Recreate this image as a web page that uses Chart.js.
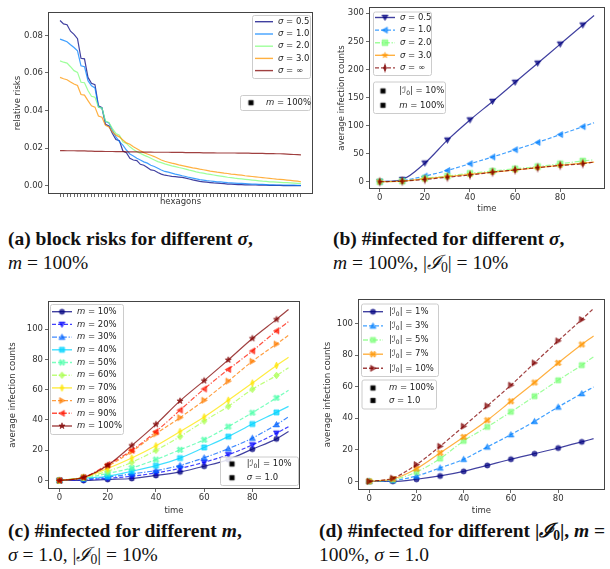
<!DOCTYPE html>
<html>
<head>
<meta charset="utf-8">
<script src="https://cdn.jsdelivr.net/npm/chart.js@4/dist/chart.umd.min.js"></script>
<style>
  body { margin: 0; background: #fff; width: 610px; height: 569px; position: relative; overflow: hidden; }
  canvas { position: absolute; }
  .cap { position: absolute; font-family: "Liberation Serif", "DejaVu Serif", serif; font-size: 19.5px; line-height: 23.5px; color: #111; white-space: nowrap; }
  .cap sub { font-size: 0.7em; vertical-align: -0.25em; line-height: 0; }
</style>
</head>
<body>
<canvas id="ca" width="318" height="208" style="left:0;top:0"></canvas>
<canvas id="cb" width="290" height="215" style="left:320px;top:0"></canvas>
<canvas id="cc" width="310" height="227" style="left:0;top:290px"></canvas>
<canvas id="cd" width="300" height="227" style="left:310px;top:290px"></canvas>

<div class="cap" style="left:8px;top:227px"><b>(a) block risks for different <i>σ</i>,</b><br><i>m</i> = 100%</div>
<div class="cap" style="left:333px;top:227px"><b>(b) #infected for different <i>σ</i>,</b><br><i>m</i> = 100%, |<i>ℐ</i><sub>0</sub>| = 10%</div>
<div class="cap" style="left:8px;top:519px"><b>(c) #infected for different <i>m</i>,</b><br><i>σ</i> = 1.0, |<i>ℐ</i><sub>0</sub>| = 10%</div>
<div class="cap" style="left:319px;top:519px"><b>(d) #infected for different |<i>ℐ</i><sub>0</sub>|, <i>m</i> =</b><br>100%, <i>σ</i> = 1.0</div>

<script>
// ---- data ----
// (a) relative risk per hexagon, sorted
const hexagons = [0,1,2,3,4,5,6,7,8,9,10,11,12,13,14,15,16,17,18,19,20,21,22,23,24,25,26,27,28,29,30,31,32,33,34,
  35,36,37,38,39,40,41,42,43,44,45,46,47,48,49,50,51,52,53,54,55,56,57,58,59,60,61,62,63,64,65,66,67,68,69];
const riskSigma05 = [0.0879,0.0861,0.0856,0.0822,0.0805,0.0782,0.0678,0.0675,0.0576,0.0545,
  0.0538,0.0425,0.0415,0.0327,0.0318,0.0278,0.0246,0.0239,0.0185,0.0176,
  0.0146,0.0137,0.0134,0.0114,0.0109,0.0097,0.0084,0.0081,0.0070,0.0062,
  0.0056,0.0053,0.0050,0.0048,0.0046,0.0044,0.0040,0.0036,0.0031,0.0027,
  0.0023,0.0021,0.0019,0.0017,0.0015,0.0014,0.0012,0.0011,0.0009,0.0008,
  0.0007,0.0006,0.0006,0.0005,0.0005,0.0004,0.0004,0.0003,0.0003,0.0003,
  0.0002,0.0002,0.0002,0.0002,0.0001,0.0001,0.0001,0.0001,0.0001,0.0001];
const riskSigma10 = [0.0780,0.0773,0.0766,0.0750,0.0735,0.0717,0.0638,0.0633,0.0559,0.0532,
  0.0520,0.0418,0.0413,0.0341,0.0334,0.0295,0.0260,0.0234,0.0216,0.0190,
  0.0169,0.0158,0.0146,0.0137,0.0127,0.0120,0.0109,0.0102,0.0093,0.0084,
  0.0076,0.0072,0.0067,0.0062,0.0058,0.0053,0.0049,0.0044,0.0040,0.0036,
  0.0032,0.0030,0.0027,0.0025,0.0023,0.0021,0.0020,0.0018,0.0016,0.0015,
  0.0014,0.0013,0.0012,0.0011,0.0010,0.0009,0.0008,0.0007,0.0007,0.0006,
  0.0005,0.0005,0.0004,0.0004,0.0004,0.0003,0.0003,0.0003,0.0002,0.0002];
const riskSigma20 = [0.0664,0.0657,0.0652,0.0633,0.0612,0.0603,0.0550,0.0548,0.0506,0.0476,
  0.0471,0.0418,0.0413,0.0344,0.0337,0.0304,0.0278,0.0269,0.0234,0.0225,
  0.0207,0.0193,0.0181,0.0172,0.0163,0.0155,0.0146,0.0137,0.0128,0.0123,
  0.0116,0.0111,0.0106,0.0102,0.0097,0.0093,0.0088,0.0083,0.0079,0.0074,
  0.0070,0.0067,0.0063,0.0060,0.0057,0.0054,0.0051,0.0048,0.0045,0.0043,
  0.0040,0.0038,0.0036,0.0034,0.0032,0.0030,0.0028,0.0026,0.0024,0.0023,
  0.0021,0.0020,0.0019,0.0018,0.0017,0.0016,0.0015,0.0014,0.0013,0.0012];
const riskSigma30 = [0.0576,0.0569,0.0564,0.0552,0.0541,0.0533,0.0485,0.0482,0.0453,0.0425,
  0.0418,0.0371,0.0364,0.0322,0.0313,0.0286,0.0269,0.0260,0.0243,0.0228,
  0.0221,0.0207,0.0197,0.0186,0.0176,0.0169,0.0162,0.0155,0.0146,0.0137,
  0.0130,0.0125,0.0120,0.0116,0.0111,0.0107,0.0103,0.0099,0.0095,0.0092,
  0.0088,0.0085,0.0082,0.0078,0.0075,0.0072,0.0070,0.0067,0.0065,0.0062,
  0.0060,0.0058,0.0056,0.0053,0.0051,0.0049,0.0047,0.0045,0.0043,0.0041,
  0.0039,0.0037,0.0035,0.0034,0.0032,0.0030,0.0028,0.0026,0.0024,0.0021];
const riskSigmaInf = [0.0187,0.0187,0.0186,0.0186,0.0186,0.0185,0.0185,0.0185,0.0184,0.0184,
  0.0183,0.0183,0.0183,0.0182,0.0182,0.0182,0.0181,0.0181,0.0181,0.0180,
  0.0180,0.0180,0.0180,0.0179,0.0179,0.0179,0.0179,0.0178,0.0178,0.0178,
  0.0178,0.0178,0.0177,0.0177,0.0177,0.0177,0.0176,0.0176,0.0176,0.0176,
  0.0176,0.0175,0.0175,0.0175,0.0175,0.0174,0.0174,0.0174,0.0174,0.0174,
  0.0174,0.0173,0.0173,0.0173,0.0173,0.0172,0.0172,0.0172,0.0172,0.0171,
  0.0171,0.0171,0.0170,0.0170,0.0169,0.0168,0.0167,0.0166,0.0165,0.0164];
const riskTicks = [0, 0.02, 0.04, 0.06, 0.08];

// (b)-(d) average infection counts over time (markers every 10 steps, line to 95)
const times = [0, 10, 20, 30, 40, 50, 60, 70, 80, 90, 95];
const timeTicks = [0, 20, 40, 60, 80];

const infSigma05 = [0, 4, 33, 74, 110, 143, 177, 211, 245, 279, 296];
const infSigma10 = [0, 2, 10, 20, 32, 44, 57, 70, 84, 98, 105];
const infSigma20 = [0, 1, 6, 10, 15, 19, 23, 27, 32, 37, 39];
const infSigma30 = [0, 1, 5, 9, 13, 17, 21, 25, 29, 33, 35];
const infSigmaInf = [0, 1, 4, 8, 12, 17, 21, 25, 29, 32, 35];
const countTicksB = [0, 50, 100, 150, 200, 250, 300];

const infM10 = [0, 0, 0.7, 1.3, 3.3, 5.7, 9.4, 13.8, 20.7, 27.5, 32.3];
const infM20 = [0, 0.5, 1.5, 2.8, 5, 8, 12, 17, 23.5, 31.2, 35.6];
const infM30 = [0, 1, 2.2, 4.4, 6.5, 10, 15, 21, 28, 37, 42];
const infM40 = [0, 1.5, 2.8, 6.1, 9.8, 14.8, 21.8, 29, 37.3, 45, 49];
const infM50 = [0, 1.5, 4.6, 8.3, 13.8, 20.3, 26.9, 35.6, 44.8, 54.6, 59.6];
const infM60 = [0, 2, 6.1, 12, 19.9, 29, 39.3, 49, 60.3, 69.4, 74.5];
const infM70 = [0, 2, 7.9, 14.8, 22.9, 32.3, 42, 53, 64.4, 76, 81.4];
const infM80 = [0, 2, 9.4, 19.2, 30.8, 41.5, 53, 65.7, 78.8, 90.2, 96];
const infM90 = [0, 2, 10.5, 19.9, 32.3, 46.5, 60.5, 73.4, 85.6, 98.9, 105];
const infM100 = [0, 2, 10, 23.1, 37.1, 52.6, 66, 79.7, 93.9, 106.5, 113];

const infI1 = [0, 0, 1.3, 3.4, 6.3, 10.1, 14, 17.5, 21.1, 25, 27];
const infI3 = [0, 0.5, 3.4, 8.5, 14, 21.8, 29.6, 38, 47.1, 55.6, 59.8];
const infI5 = [0, 1, 5.9, 14.4, 25.6, 34.5, 44, 53.9, 64, 73.6, 78.9];
const infI7 = [0, 1.5, 8, 18, 28.1, 38.7, 50.7, 62.6, 75, 86.7, 92];
const infI10 = [0, 2, 10.6, 22.2, 34.9, 47.8, 60.9, 75, 89, 102.5, 109.5];
const countTicksCD = [0, 20, 40, 60, 80, 100];

// ---- styling helpers ----
const FONT = '"DejaVu Sans", sans-serif';
const INK = '#333';
const FS = 8.5;
const ALPHA = 0.75;

function rgba(hex, a) {
  const n = parseInt(hex.slice(1), 16);
  return `rgba(${n >> 16},${(n >> 8) & 255},${n & 255},${a})`;
}
const jet5 = ['#000080', '#0080ff', '#7dff7a', '#ff9600', '#800000'].map(c => rgba(c, ALPHA));
const jet10 = ['#000080', '#0000ff', '#0063ff', '#00d4ff', '#4dffa9', '#a9ff4f', '#ffe600', '#ff7d00', '#ff1700', '#800000'].map(c => rgba(c, ALPHA));

const DASH = { '-': [], '--': [4, 2], '-.': [5, 1.8, 1.2, 1.8] };

function markerImg(kind, color, r) {
  const n = Math.ceil(r * 3.4) + 2;
  const c = document.createElement('canvas');
  c.width = c.height = n;
  const g = c.getContext('2d');
  g.translate(n / 2, n / 2);
  g.fillStyle = color;
  g.strokeStyle = color;
  g.lineWidth = 0.8;
  const poly = pts => {
    g.beginPath();
    pts.forEach(([x, y], i) => i ? g.lineTo(x * r, y * r) : g.moveTo(x * r, y * r));
    g.closePath();
  };
  const w = 0.33;
  const plus = [[-w,-1],[w,-1],[w,-w],[1,-w],[1,w],[w,w],[w,1],[-w,1],[-w,w],[-1,w],[-1,-w],[-w,-w]];
  if (kind === 'o') { g.beginPath(); g.arc(0, 0, r, 0, 2 * Math.PI); }
  else if (kind === 's') poly([[-0.85,-0.85],[0.85,-0.85],[0.85,0.85],[-0.85,0.85]]);
  else if (kind === '^') poly([[0,-1],[1,0.8],[-1,0.8]]);
  else if (kind === 'v') poly([[0,1],[1,-0.8],[-1,-0.8]]);
  else if (kind === '<') poly([[-1,0],[0.8,-1],[0.8,1]]);
  else if (kind === '>') poly([[1,0],[-0.8,-1],[-0.8,1]]);
  else if (kind === 'D') poly([[0,-1.05],[0.85,0],[0,1.05],[-0.85,0]]);
  else if (kind === 'd' || kind === 'dbar') poly([[0,-1.1],[0.55,0],[0,1.1],[-0.55,0]]);
  else if (kind === 'X') poly(plus.map(([x, y]) => [(x - y) * 0.8, (x + y) * 0.8]));
  else if (kind === '*') {
    const p = [];
    for (let k = 0; k < 10; k++) {
      const a = -Math.PI / 2 + k * Math.PI / 5;
      const rr = k % 2 ? 0.45 : 1.15;
      p.push([rr * Math.cos(a), rr * Math.sin(a)]);
    }
    poly(p);
  }
  g.fill();
  g.stroke();
  if (kind === 'dbar') {
    g.beginPath();
    g.moveTo(0, -1.6 * r); g.lineTo(0, 1.6 * r);
    g.lineWidth = 1; g.stroke();
  }
  return c;
}

function series(ys, color, dash, marker, r) {
  const img = markerImg(marker, color, r || 3);
  return {
    data: times.map((t, i) => ({ x: t, y: ys[i] })),
    borderColor: color,
    backgroundColor: color,
    borderWidth: 1.2,
    borderDash: DASH[dash],
    pointStyle: img,
    pointRadius: ctx => ctx.dataIndex < times.length - 1 ? 3 : 0,
    cubicInterpolationMode: 'monotone',
    fill: false,
    legendStyle: { color, dash, img }
  };
}

function riskSeries(ys, color) {
  return {
    data: hexagons.map((h, i) => ({ x: h, y: ys[i] })),
    borderColor: color,
    borderWidth: 1.2,
    pointRadius: 0,
    tension: 0,
    fill: false,
    legendStyle: { color, dash: '-' }
  };
}

const it = t => [t, 'i'];
const nm = t => [t, 'n'];
const sub = t => [t, 'sub'];
const sigmaLbl = v => [it('σ'), nm(' = ' + v)];
const mLbl = v => [it('m'), nm(' = ' + v)];
const iLbl = v => [nm('|'), it('ℐ'), sub('0'), nm('| = ' + v)];

function drawSegs(g, segs, x, y) {
  segs.forEach(([t, k]) => {
    const sz = k === 'sub' ? FS * 0.7 : FS;
    g.font = (k === 'i' ? 'italic ' : '') + sz + 'px ' + FONT;
    g.fillText(t, x, k === 'sub' ? y + FS * 0.3 : y);
    x += g.measureText(t).width;
  });
}

// legend boxes drawn on the canvas, matplotlib style
function legendPlugin(boxes) {
  return {
    id: 'boxLegend',
    afterDraw(chart) {
      const g = chart.ctx;
      g.save();
      boxes.forEach(b => {
        g.beginPath();
        g.roundRect(b.x + 0.5, b.y + 0.5, b.w, b.h, 2);
        g.fillStyle = 'rgba(255,255,255,0.85)';
        g.fill();
        g.strokeStyle = '#ccc';
        g.lineWidth = 1;
        g.stroke();
        b.items.forEach((item, k) => {
          const y = b.rows[k];
          const st = item.style;
          if (st.line !== false) {
            g.beginPath();
            g.setLineDash(DASH[st.dash]);
            g.strokeStyle = st.color;
            g.lineWidth = 1.4;
            g.moveTo(b.lx0, y);
            g.lineTo(b.lx1, y);
            g.stroke();
            g.setLineDash([]);
          }
          if (st.img) {
            const cx = (b.lx0 + b.lx1) / 2;
            g.drawImage(st.img, cx - st.img.width / 2, y - st.img.height / 2);
          }
          g.fillStyle = '#222';
          g.textBaseline = 'middle';
          drawSegs(g, item.segs, b.tx, y);
        });
      });
      g.restore();
    }
  };
}

const framePlugin = {
  id: 'frame',
  afterDatasetsDraw(chart) {
    const { ctx, chartArea: a } = chart;
    ctx.save();
    ctx.strokeStyle = '#444';
    ctx.lineWidth = 1;
    ctx.strokeRect(Math.round(a.left) + 0.5, Math.round(a.top) + 0.5,
      Math.round(a.right - a.left) - 1, Math.round(a.bottom - a.top) - 1);
    ctx.restore();
  }
};

function scales(p) {
  const font = { family: FONT, size: FS };
  const grid = { display: true, drawOnChartArea: false, drawTicks: true, tickLength: 3, tickColor: '#444', lineWidth: 0.8 };
  return {
    x: {
      type: 'linear', min: p.xmin, max: p.xmax,
      afterBuildTicks: s => { s.ticks = p.xticks.map(v => ({ value: v })); },
      afterFit: s => { s.height = p.xH; },
      grid, border: { display: false },
      ticks: { display: p.xLabels !== false, color: INK, font, padding: 1, maxRotation: 0, autoSkip: false, callback: v => String(v) },
      title: { display: true, text: p.xTitle, color: INK, font, padding: { top: 0, bottom: p.xTitlePad } }
    },
    y: {
      type: 'linear', min: p.ymin, max: p.ymax,
      afterBuildTicks: s => { s.ticks = p.yticks.map(v => ({ value: v })); },
      afterFit: s => { s.width = p.yW; },
      grid, border: { display: false },
      ticks: { color: INK, font, padding: 2, autoSkip: false, callback: p.yfmt || (v => String(v)) },
      title: { display: true, text: p.yTitle, color: INK, font, padding: { top: p.yTitlePad, bottom: 0 } }
    }
  };
}

function makeChart(id, datasets, p, boxes) {
  datasets.forEach((d, i) => { d.order = -i; });
  return new Chart(document.getElementById(id), {
    type: 'line',
    data: { datasets },
    options: {
      responsive: false,
      animation: false,
      devicePixelRatio: 1,
      layout: { padding: p.pad },
      plugins: { legend: { display: false }, tooltip: { enabled: false } },
      scales: scales(p)
    },
    plugins: [framePlugin, legendPlugin(boxes)]
  });
}

function items(datasets, labels) {
  return datasets.map((d, i) => ({ style: d.legendStyle, segs: labels[i] }));
}
const blackSq = { line: false, img: markerImg('s', '#000', 2.6) };

// ---- (a) ----
const dsA = [
  riskSeries(riskSigma05, jet5[0]),
  riskSeries(riskSigma10, jet5[1]),
  riskSeries(riskSigma20, jet5[2]),
  riskSeries(riskSigma30, jet5[3]),
  riskSeries(riskSigmaInf, jet5[4])
];
const sigmaLabels = ['0.5', '1.0', '2.0', '3.0', '∞'].map(sigmaLbl);
makeChart('ca', dsA, {
  pad: { top: 12, right: 5, left: 0, bottom: 0 },
  xmin: -3.45, xmax: 72.45, xticks: hexagons, xLabels: false, xH: 14, xTitle: 'hexagons', xTitlePad: 1,
  ymin: -0.0044, ymax: 0.0924, yticks: riskTicks, yW: 48, yTitle: 'relative risks', yTitlePad: 13,
  yfmt: v => v.toFixed(2)
}, [
  { x: 252, y: 15, w: 58, h: 63, rows: [21.7, 34, 46.2, 58.4, 70.6], lx0: 255, lx1: 273, tx: 278, items: items(dsA, sigmaLabels) },
  { x: 240, y: 95, w: 70, h: 15, rows: [102.7], lx0: 243, lx1: 259, tx: 266, items: [{ style: blackSq, segs: mLbl('100%') }] }
]);

// ---- (b) ----
const dsB = [
  series(infSigma05, jet5[0], '-', 'v'),
  series(infSigma10, jet5[1], '--', '<'),
  series(infSigma20, jet5[2], '-.', 's', 3.4),
  series(infSigma30, jet5[3], '-', '*', 2.6),
  series(infSigmaInf, jet5[4], '--', 'dbar', 2.8)
];
makeChart('cb', dsB, {
  pad: { top: 7, right: 1, left: 0, bottom: 0 },
  xmin: -4.75, xmax: 99.75, xticks: timeTicks, xH: 26, xTitle: 'time', xTitlePad: 1,
  ymin: -13, ymax: 311, yticks: countTicksB, yW: 49, yTitle: 'average infection counts', yTitlePad: 17
}, [
  { x: 53, y: 11.5, w: 58, h: 63.5, rows: [17.5, 30.1, 42.7, 55.3, 67.9], lx0: 55, lx1: 75, tx: 80, items: items(dsB, sigmaLabels) },
  { x: 53, y: 81.5, w: 72, h: 31.5, rows: [91, 105.3], lx0: 55, lx1: 71, tx: 79.3,
    items: [{ style: blackSq, segs: iLbl('10%') }, { style: blackSq, segs: mLbl('100%') }] }
]);

// ---- (c) ----
const dsC = [
  series(infM10, jet10[0], '-', 'o', 2.6),
  series(infM20, jet10[1], '--', 'v'),
  series(infM30, jet10[2], '-.', '^'),
  series(infM40, jet10[3], '-', 's', 3),
  series(infM50, jet10[4], '--', 'X', 2.8),
  series(infM60, jet10[5], '-.', 'D', 3.2),
  series(infM70, jet10[6], '-', 'd', 3.2),
  series(infM80, jet10[7], '--', '>'),
  series(infM90, jet10[8], '-.', '<'),
  series(infM100, jet10[9], '-', '*', 2.8)
];
const mLabels = ['10%', '20%', '30%', '40%', '50%', '60%', '70%', '80%', '90%', '100%'].map(mLbl);
makeChart('cc', dsC, {
  pad: { top: 11, right: 10, left: 0, bottom: 0 },
  xmin: -4.75, xmax: 99.75, xticks: timeTicks, xH: 28, xTitle: 'time', xTitlePad: 1,
  ymin: -5.65, ymax: 118.65, yticks: countTicksCD, yW: 48, yTitle: 'average infection counts', yTitlePad: 8
}, [
  { x: 50, y: 14, w: 73, h: 130, rows: [21.7, 34.4, 47.1, 59.8, 72.5, 85.2, 97.9, 110.6, 123.3, 136], lx0: 52, lx1: 72, tx: 77, items: items(dsC, mLabels) },
  { x: 220, y: 166.5, w: 78, h: 28.5, rows: [174, 187.7], lx0: 223, lx1: 241, tx: 246.7,
    items: [{ style: blackSq, segs: iLbl('10%') }, { style: blackSq, segs: sigmaLbl('1.0') }] }
]);

// ---- (d) ----
const dsD = [
  series(infI1, jet5[0], '-', 'o', 2.6),
  series(infI3, jet5[1], '--', '^'),
  series(infI5, jet5[2], '-.', 's', 3),
  series(infI7, jet5[3], '-', 'X', 2.8),
  series(infI10, jet5[4], '--', '>')
];
const iLabels = ['1%', '3%', '5%', '7%', '10%'].map(iLbl);
makeChart('cd', dsD, {
  pad: { top: 9, right: 0, left: 0, bottom: 0 },
  xmin: -4.75, xmax: 99.75, xticks: timeTicks, xH: 27, xTitle: 'time', xTitlePad: 1,
  ymin: -5.5, ymax: 115.5, yticks: countTicksCD, yW: 48, yTitle: 'average infection counts', yTitlePad: 13
}, [
  { x: 51, y: 13.5, w: 77, h: 72.5, rows: [21.7, 35.9, 50, 64.2, 78.3], lx0: 53, lx1: 73, tx: 79, items: items(dsD, iLabels) },
  { x: 51.5, y: 89.5, w: 74.5, h: 29, rows: [98, 110.5], lx0: 55, lx1: 71, tx: 79,
    items: [{ style: blackSq, segs: mLbl('100%') }, { style: blackSq, segs: sigmaLbl('1.0') }] }
]);
</script>
</body>
</html>
